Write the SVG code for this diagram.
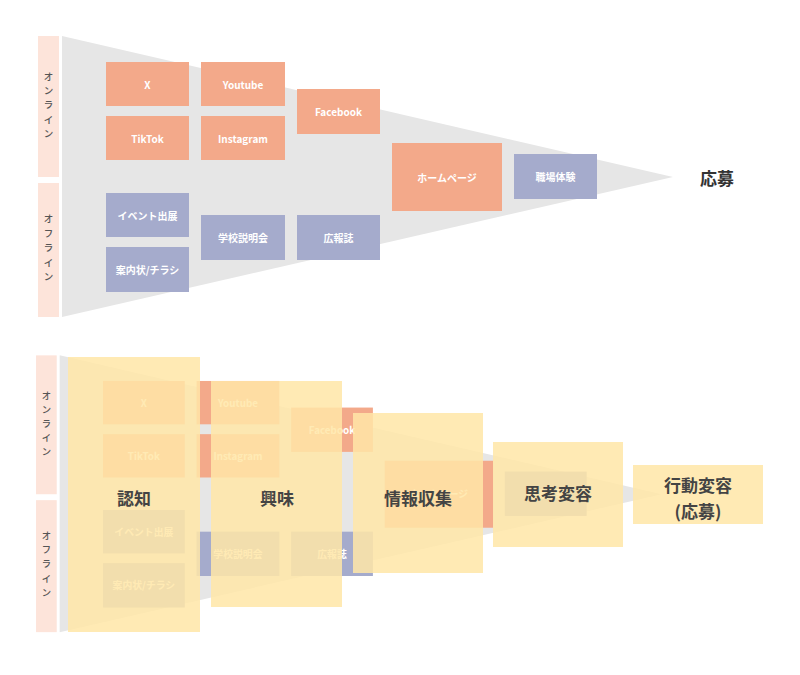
<svg xmlns="http://www.w3.org/2000/svg" width="800" height="675" viewBox="0 0 800 675">
<style>
text{font-family:"Noto Sans CJK JP","Noto Sans",sans-serif}
.strip{fill:#fde4da}
.funnel{fill:#e6e6e6}
.on{fill:#f3a98a}
.off{fill:#a5abcc}
.bt{fill:#ffffff;font-size:10px;font-weight:700;text-anchor:middle;dominant-baseline:central}
.st{fill:#555555;font-size:9.5px;font-weight:500;text-anchor:middle}
.goal{fill:#333333;font-size:17px;font-weight:700;text-anchor:middle;dominant-baseline:central}
.ov{fill:#ffe6a7;opacity:0.85}
.ot{fill:#444444;font-size:17px;font-weight:700;text-anchor:middle;dominant-baseline:central}
</style>
<rect width="800" height="675" fill="#ffffff"/>

<g id="top-funnel">
  <g id="strip-online"><rect class="strip" x="38" y="36" width="21" height="141"/>
    <text class="st" x="48.5" y="80"><tspan x="48.5">オ</tspan><tspan x="48.5" dy="14.2">ン</tspan><tspan x="48.5" dy="14.2">ラ</tspan><tspan x="48.5" dy="14.2">イ</tspan><tspan x="48.5" dy="14.2">ン</tspan></text></g>
  <g id="strip-offline"><rect class="strip" x="38" y="183" width="21" height="134"/>
    <text class="st" x="48.5" y="222"><tspan x="48.5">オ</tspan><tspan x="48.5" dy="14.6">フ</tspan><tspan x="48.5" dy="14.6">ラ</tspan><tspan x="48.5" dy="14.6">イ</tspan><tspan x="48.5" dy="14.6">ン</tspan></text></g>
  <polygon id="funnel" class="funnel" points="62,36 673,177 62,317"/>
  <g id="n-x"><rect class="on" x="106" y="62" width="83" height="44"/><text class="bt" x="147.5" y="84">X</text></g>
  <g id="n-youtube"><rect class="on" x="201" y="62" width="84" height="44"/><text class="bt" x="243" y="84">Youtube</text></g>
  <g id="n-tiktok"><rect class="on" x="106" y="116" width="83" height="44"/><text class="bt" x="147.5" y="138">TikTok</text></g>
  <g id="n-instagram"><rect class="on" x="201" y="116" width="84" height="44"/><text class="bt" x="243" y="138">Instagram</text></g>
  <g id="n-facebook"><rect class="on" x="297" y="89" width="83" height="45"/><text class="bt" x="338.5" y="111.5">Facebook</text></g>
  <g id="n-homepage"><rect class="on" x="392" y="143" width="110" height="68"/><text class="bt" x="447" y="177">ホームページ</text></g>
  <g id="n-shokuba"><rect class="off" x="514" y="154" width="83" height="45"/><text class="bt" x="555.5" y="176.5">職場体験</text></g>
  <g id="n-event"><rect class="off" x="106" y="193" width="83" height="44"/><text class="bt" x="147.5" y="215">イベント出展</text></g>
  <g id="n-annai"><rect class="off" x="106" y="247" width="83" height="45"/><text class="bt" x="147.5" y="269.5">案内状/チラシ</text></g>
  <g id="n-gakkou"><rect class="off" x="201" y="215" width="84" height="45"/><text class="bt" x="243" y="237.5">学校説明会</text></g>
  <g id="n-kouhou"><rect class="off" x="297" y="215" width="83" height="45"/><text class="bt" x="338.5" y="237.5">広報誌</text></g>
  <g id="n-oubo"><text class="goal" x="717" y="177">応募</text></g>
</g>

<g id="bottom-funnel" transform="matrix(0.985 0 0 0.985 -1.4 319.9)">
  <g id="b-strip-online"><rect class="strip" x="38" y="36" width="21" height="141"/>
    <text class="st" x="48.5" y="80"><tspan x="48.5">オ</tspan><tspan x="48.5" dy="14.2">ン</tspan><tspan x="48.5" dy="14.2">ラ</tspan><tspan x="48.5" dy="14.2">イ</tspan><tspan x="48.5" dy="14.2">ン</tspan></text></g>
  <g id="b-strip-offline"><rect class="strip" x="38" y="183" width="21" height="134"/>
    <text class="st" x="48.5" y="222"><tspan x="48.5">オ</tspan><tspan x="48.5" dy="14.6">フ</tspan><tspan x="48.5" dy="14.6">ラ</tspan><tspan x="48.5" dy="14.6">イ</tspan><tspan x="48.5" dy="14.6">ン</tspan></text></g>
  <polygon id="b-funnel" class="funnel" points="62,36 673,177 62,317"/>
  <g id="b-n-x"><rect class="on" x="106" y="62" width="83" height="44"/><text class="bt" x="147.5" y="84">X</text></g>
  <g id="b-n-youtube"><rect class="on" x="201" y="62" width="84" height="44"/><text class="bt" x="243" y="84">Youtube</text></g>
  <g id="b-n-tiktok"><rect class="on" x="106" y="116" width="83" height="44"/><text class="bt" x="147.5" y="138">TikTok</text></g>
  <g id="b-n-instagram"><rect class="on" x="201" y="116" width="84" height="44"/><text class="bt" x="243" y="138">Instagram</text></g>
  <g id="b-n-facebook"><rect class="on" x="297" y="89" width="83" height="45"/><text class="bt" x="338.5" y="111.5">Facebook</text></g>
  <g id="b-n-homepage"><rect class="on" x="392" y="143" width="110" height="68"/><text class="bt" x="447" y="177">ホームページ</text></g>
  <g id="b-n-shokuba"><rect class="off" x="514" y="154" width="83" height="45"/><text class="bt" x="555.5" y="176.5">職場体験</text></g>
  <g id="b-n-event"><rect class="off" x="106" y="193" width="83" height="44"/><text class="bt" x="147.5" y="215">イベント出展</text></g>
  <g id="b-n-annai"><rect class="off" x="106" y="247" width="83" height="45"/><text class="bt" x="147.5" y="269.5">案内状/チラシ</text></g>
  <g id="b-n-gakkou"><rect class="off" x="201" y="215" width="84" height="45"/><text class="bt" x="243" y="237.5">学校説明会</text></g>
  <g id="b-n-kouhou"><rect class="off" x="297" y="215" width="83" height="45"/><text class="bt" x="338.5" y="237.5">広報誌</text></g>
</g>

<g id="stages">
  <g id="s-ninchi"><rect class="ov" x="68" y="357" width="132" height="275"/><text class="ot" x="134" y="497">認知</text></g>
  <g id="s-kyoumi"><rect class="ov" x="211" y="381" width="131" height="226"/><text class="ot" x="277" y="497">興味</text></g>
  <g id="s-jouhou"><rect class="ov" x="353" y="413" width="130" height="160"/><text class="ot" x="418" y="497">情報収集</text></g>
  <g id="s-shikou"><rect class="ov" x="493" y="442" width="130" height="105"/><text class="ot" x="558" y="492">思考変容</text></g>
  <g id="s-koudou"><rect class="ov" x="633" y="465" width="130" height="59"/><text class="ot" x="698" y="484">行動変容</text><text class="ot" x="698" y="510">(応募)</text></g>
</g>
<g id="connectors"/>
</svg>
